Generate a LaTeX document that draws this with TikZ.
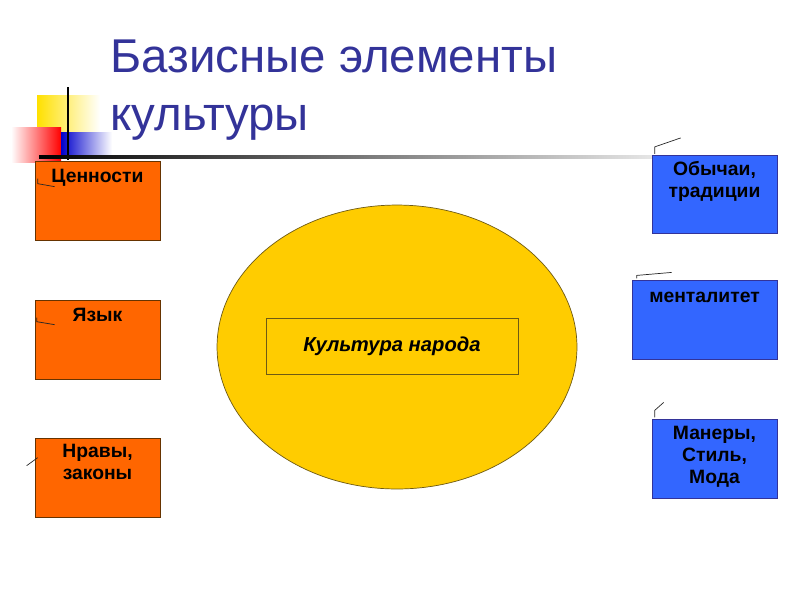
\documentclass[tikz,border=0pt]{standalone}
\usepackage{fontspec}
\setsansfont{Liberation Sans}
\usetikzlibrary{positioning,shapes.geometric}

\definecolor{titleblue}{RGB}{51,51,153}
\definecolor{boxorange}{RGB}{255,102,0}
\definecolor{boxblue}{RGB}{51,102,255}
\definecolor{ovalyellow}{RGB}{255,204,0}
\definecolor{ovalline}{RGB}{110,90,20}

\tikzset{
  obox/.style={draw=orange!40!black,fill=boxorange,minimum width=2.5cm,minimum height=1.58cm,inner sep=0},
  bbox/.style={draw=titleblue,fill=boxblue,minimum height=1.57cm,inner sep=0},
  btext/.style={font=\sffamily\bfseries\fontsize{11}{12.5}\selectfont,align=center,anchor=north,inner sep=0,execute at begin node=\strut},
  tick/.style={gray!30!black,thin}
}

\begin{document}
\begin{tikzpicture}[x=0.02cm,y=-0.02cm]
\useasboundingbox (0,0) rectangle (800,600);

% corner squares
\shade[left color=ovalyellow!60!yellow,right color=white] (37,95) rectangle (100,133);
\shade[left color=white,right color=red] (11,127) rectangle (61,162);
\shade[left color=blue!80!black,right color=white] (61,132) rectangle (112,158);
\draw[thick] (68,87) -- (68,160);
\shade[left color=black,right color=gray!20] (39,155.5) rectangle (652,158);

% title
\node[anchor=base west,inner sep=0,align=left,text=titleblue,
      font=\sffamily\fontsize{27}{33}\selectfont] (title) at (110,130)
      {Базисные элементы\\культуры};

% centre
\node[ellipse,draw=ovalline,fill=ovalyellow,minimum width=7.2cm,minimum height=5.68cm,inner sep=0] (oval) at (397,347) {};
\node[draw=ovalline,minimum width=5.04cm,minimum height=1.12cm,inner sep=0,
      font=\sffamily\bfseries\itshape\fontsize{11.5}{13}\selectfont] (core) at (392,346) {Культура народа};

% left column
\node[obox] (val) at (97.5,200.5) {};
\node[btext,below=0.13cm of val.north] (valt) {Ценности};
\node[obox] (lang) at (97.5,339.5) {};
\node[btext,below=0.13cm of lang.north] (langt) {Язык};
\node[obox] (mor) at (97.5,477.5) {};
\node[btext,below=0.13cm of mor.north] (mort) {Нравы,\\законы};

% right column
\node[bbox,minimum width=2.5cm] (cus) at (714.5,194.5) {};
\node[btext,below=0.13cm of cus.north] (cust) {Обычаи,\\традиции};
\node[bbox,minimum width=2.9cm] (ment) at (704.5,320) {};
\node[btext,below=0.13cm of ment.north] (mentt) {менталитет};
\node[bbox,minimum width=2.5cm] (man) at (714.5,459) {};
\node[btext,below=0.13cm of man.north] (mant) {Манеры,\\Стиль,\\Мода};

% little leftover ticks
\draw[tick] (val.north west) ++(3,18) -- ++(0,5) -- ++(17,3);
\draw[tick] (lang.north west) ++(2,18) -- ++(0,4) -- ++(18,3);
\draw[tick] (mor.north west) ++(-8,28) -- ++(11,-8);
\draw[tick] (cus.north west) ++(3,-1) -- ++(0,-7) -- ++(26,-9);
\draw[tick] (ment.north west) ++(5,-2) -- ++(0,-3) -- ++(35,-3);
\draw[tick] (man.north west) ++(3,-2) -- ++(0,-7) -- ++(9,-8);
\end{tikzpicture}
\end{document}
